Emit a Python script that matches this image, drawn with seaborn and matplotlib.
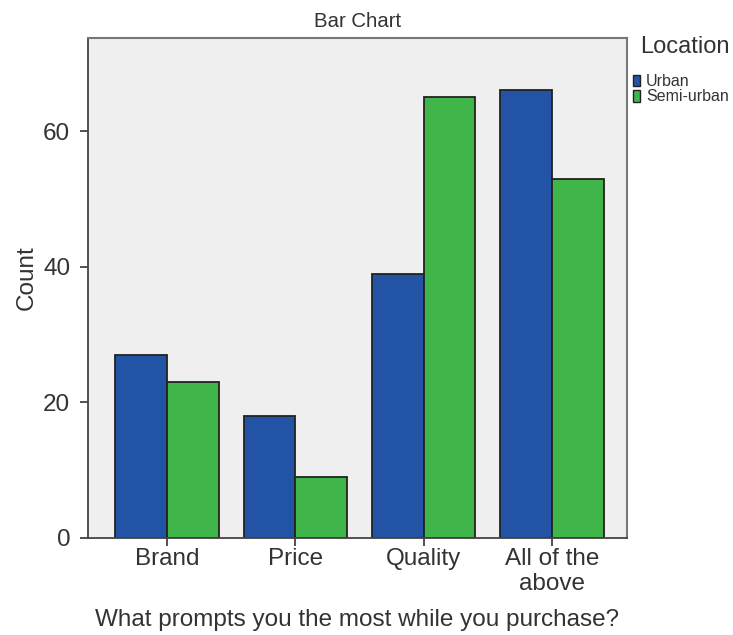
import pandas as pd
from matplotlib import pyplot as plt
from matplotlib.patches import Patch
import seaborn as sns

categories = ["Brand", "Price", "Quality", "All of the\nabove"]
urban = [27, 18, 39, 66]
semi_urban = [23, 9, 65, 53]

data = pd.DataFrame(
    {
        "Prompt": categories * 2,
        "Count": urban + semi_urban,
        "Location": ["Urban"] * 4 + ["Semi-urban"] * 4,
    }
)

sns.set_theme(style="white")
plt.rcParams["font.family"] = ["Liberation Sans", "DejaVu Sans"]
plt.rcParams["text.color"] = "#333333"
plt.rcParams["axes.labelcolor"] = "#333333"
plt.rcParams["xtick.color"] = "#333333"
plt.rcParams["ytick.color"] = "#333333"

colors = {"Urban": "#2253a4", "Semi-urban": "#40b54a"}

W, H = 733, 635
fig = plt.figure(figsize=(W / 100, H / 100), dpi=100)
# axes box in pixels: left 87.5, right 627, top 37.5, bottom 538
ax = fig.add_axes([87.5 / W, 1 - 538 / H, (627 - 87.5) / W, (538 - 37.5) / H])
ax.set_facecolor("#efefef")

sns.barplot(
    data=data,
    x="Prompt",
    y="Count",
    hue="Location",
    palette=colors,
    width=0.805,
    edgecolor="#222222",
    linewidth=1.3,
    saturation=1,
    legend=False,
    ax=ax,
)

ax.set_ylim(0, 73.8)
ax.set_xlim(-0.62, 3.585)
ax.set_yticks([0, 20, 40, 60])
ax.tick_params(axis="both", labelsize=17.5, length=6, width=1.2,
               direction="out", left=True, bottom=True)
ax.tick_params(axis="y", pad=6.5)
ax.tick_params(axis="x", pad=1)
ax.set_ylabel("Count", fontsize=17.5)
ax.yaxis.set_label_coords(-0.092, 0.52)
ax.set_xlabel("What prompts you the most while you purchase?", fontsize=17.5)
ax.xaxis.set_label_coords(0.5, -0.141)
ax.set_title("Bar Chart", fontsize=14.7, pad=7.5)

for side in ["top", "right"]:
    ax.spines[side].set_color("#777777")
    ax.spines[side].set_linewidth(1.5)
for side in ["left", "bottom"]:
    ax.spines[side].set_color("#444444")
    ax.spines[side].set_linewidth(1.3)

fig.text(640 / W, 1 - 47 / H, "Location", fontsize=17, va="center", ha="left")

handles = [Patch(facecolor=colors[k], edgecolor="#222222", label=k) for k in colors]
fig.legend(
    handles=handles,
    loc="upper left",
    bbox_to_anchor=(633 / W, 1 - 74 / H),
    frameon=False,
    fontsize=11.5,
    handlelength=0.45,
    handleheight=0.75,
    handletextpad=0.35,
    labelspacing=0.02,
    borderaxespad=0,
    borderpad=0,
)

fig.savefig("out.png", dpi=100)
